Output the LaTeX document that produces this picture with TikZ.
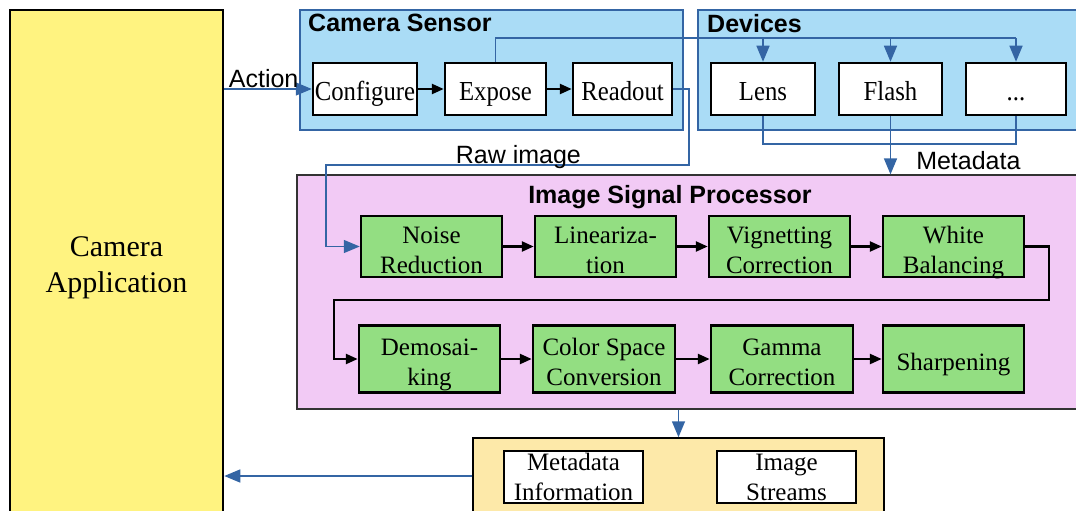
\documentclass[tikz,border=0pt]{standalone}
\usepackage{fontspec}
\setmainfont{Liberation Serif}
\setsansfont{Liberation Sans}
\newfontfamily\topserif[FakeStretch=0.9]{Liberation Serif}
\usetikzlibrary{arrows.meta}
\definecolor{appyellow}{RGB}{255,243,128}
\definecolor{sensorblue}{RGB}{170,220,246}
\definecolor{linkblue}{RGB}{52,101,164}
\definecolor{isppink}{RGB}{242,202,245}
\definecolor{stepgreen}{RGB}{147,222,130}
\definecolor{outyellow}{RGB}{253,233,169}
\begin{document}
\begin{tikzpicture}[x=1pt, y=-1pt, every node/.style={inner sep=0pt, align=center},
    frame/.style={draw=linkblue, line width=1.5pt, fill=sensorblue},
    stepbox/.style={draw=black, line width=2.5pt, fill=white, minimum height=52pt,
        text height=24pt, text depth=2pt, font={\topserif\fontsize{27.5}{32}\selectfont}},
    ispbox/.style={draw=black, line width=2.5pt, fill=stepgreen, minimum width=141pt,
        text height=53pt, text depth=0pt, font={\fontsize{25}{30}\selectfont}},
    outbox/.style={draw=black, line width=2.5pt, fill=white, minimum width=139pt, minimum height=52pt,
        text depth=0pt, font={\fontsize{25}{30}\selectfont}},
    title/.style={font={\sffamily\bfseries\fontsize{25}{29}\selectfont}},
    label/.style={font={\sffamily\fontsize{25}{29}\selectfont}},
    signal/.style={draw=linkblue, line width=1.5pt, -{Triangle[length=16pt,width=13pt]}},
    bus/.style={draw=linkblue, line width=1.5pt},
    flow/.style={draw=black, line width=2.5pt, -{Triangle[length=12pt,width=10pt]}}]
    \useasboundingbox (0,0) rectangle (1076,511);
    \clip (0,0) rectangle (1076,511);
    % application
    \node (app) at (116.5,265) [draw=black, line width=2.5pt, fill=appyellow, minimum width=213pt, minimum height=510pt,
        text depth=0pt, font={\fontsize{30}{36}\selectfont}] {Camera\\Application};
    % camera sensor and devices
    \node (sensor) at (491.5,70) [frame, minimum width=383pt, minimum height=120pt] {};
    \node (devices) at (894,70) [frame, minimum width=392pt, minimum height=120pt] {};
    \node (sensortitle) at (308,14) [title, anchor=north west] {Camera Sensor};
    \node (devicestitle) at (707,14) [title, anchor=north west] {Devices};
    \node (conf) at (365,89) [stepbox, minimum width=104pt] {Configure};
    \node (expose) at (495.5,89) [stepbox, minimum width=101pt] {Expose};
    \node (readout) at (622.5,89) [stepbox, minimum width=99pt] {Readout};
    \node (lens) at (763,89) [stepbox, minimum width=104pt] {Lens};
    \node (flash) at (890.5,89) [stepbox, minimum width=103pt] {Flash};
    \node (dots) at (1016,89) [stepbox, minimum width=100pt] {...};
    % image signal processor
    \node (isp) at (693.5,292) [draw=black!80, line width=1.2pt, fill=isppink, minimum width=793pt, minimum height=234pt] {};
    \node (isptitle) at (670,197) [title] {Image Signal Processor};
    \node (nr) at (431.5,246.5) [ispbox, minimum height=61pt] {Noise\\Reduction};
    \node (lin) at (605.5,246.5) [ispbox, minimum height=61pt] {Lineariza-\\tion};
    \node (vig) at (779.5,246.5) [ispbox, minimum height=61pt] {Vignetting\\Correction};
    \node (wb) at (953.5,246.5) [ispbox, minimum height=61pt] {White\\Balancing};
    \node (dem) at (429.5,359) [ispbox, minimum height=67pt] {Demosai-\\king};
    \node (csc) at (604,359) [ispbox, minimum height=67pt, minimum width=142pt] {Color Space\\Conversion};
    \node (gam) at (782,359) [ispbox, minimum height=67pt, minimum width=142pt] {Gamma\\Correction};
    \node (sharp) at (953.5,359) [ispbox, minimum height=67pt, text height=23pt] {Sharpening};
    % output
    \node (out) at (678.5,476) [draw=black, line width=1.5pt, fill=outyellow, minimum width=411pt, minimum height=76pt] {};
    \node (metainfo) at (573.5,477) [outbox] {Metadata\\Information};
    \node (streams) at (786.5,477) [outbox] {Image\\Streams};
    % helper points
    \coordinate (ctrl) at (495.5,38);
    \coordinate (meta) at (763,144);
    \coordinate (rawR) at (689,165);
    \coordinate (rawL) at (326,165);
    \coordinate (turnR) at (1049,300);
    \coordinate (turnL) at (334,300);
    % connectors
    \draw[signal] (app.east |- conf.west) -- (conf.west) node[label, pos=0.45, anchor=base, yshift=1pt] {Action};
    \draw[flow] (conf) -- (expose);
    \draw[flow] (expose) -- (readout);
    \draw[bus] (expose.north) -- (ctrl) -- (dots.north |- ctrl);
    \draw[signal] (lens.north |- ctrl) -- (lens.north);
    \draw[signal] (flash.north |- ctrl) -- (flash.north);
    \draw[signal] (dots.north |- ctrl) -- (dots.north);
    \draw[bus] (lens.south) -- (meta) -- (dots.south |- meta) -- (dots.south);
    \draw[signal] (flash.south) -- (flash.south |- isp.north) node[label, pos=0.92, anchor=base west, xshift=25pt] {Metadata};
    \draw[signal] (readout.east) -| (rawR) -- (rawL) node[label, pos=0.47, anchor=base, yshift=2pt] {Raw image} |- (nr.west);
    \draw[flow] (nr) -- (lin);
    \draw[flow] (lin) -- (vig);
    \draw[flow] (vig) -- (wb);
    \draw[flow] (wb.east) -| (turnR) -- (turnL) |- (dem.west);
    \draw[flow] (dem) -- (csc);
    \draw[flow] (csc) -- (gam);
    \draw[flow] (gam) -- (sharp);
    \draw[signal] (out.north |- isp.south) -- (out.north);
    \draw[signal] (out.west) -- (out.west -| app.east);
\end{tikzpicture}
\end{document}
